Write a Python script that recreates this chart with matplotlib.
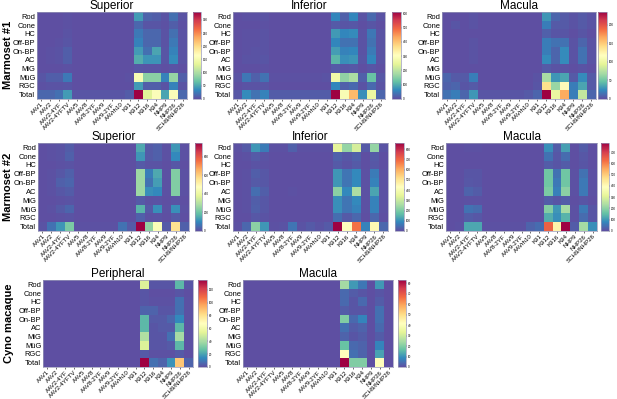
import numpy as np
import matplotlib
matplotlib.use("Agg")
import matplotlib.pyplot as plt

plt.rcParams['font.family'] = ['Liberation Sans', 'DejaVu Sans']

cell_types = ["Rod", "Cone", "HC", "Off-BP", "On-BP", "AC", "MiG", "MüG", "RGC", "Total"]
capsids = ["AAV1", "AAV2", "AAV2-4YF", "AAV2-4YFTV", "AAV5", "AAV8", "AAV8-2YF",
           "AAV9", "AAV9-2YF", "AAVrh10", "K91", "K912", "K916", "K94",
           "NHP9", "NHP26", "SCH9/NHP26"]

# values (rows = cell types, cols = capsids)
m1_superior = [
    [0, 0, 0, 2, 0, 0, 0, 0, 0, 0, 0, 45, 12, 10, 3, 20, 3],
    [0, 0, 0, 2, 0, 0, 0, 0, 0, 0, 0, 15, 5, 5, 2, 10, 2],
    [0, 0, 0, 3, 0, 0, 0, 0, 0, 0, 0, 25, 15, 15, 3, 20, 3],
    [0, 0, 2, 5, 0, 0, 0, 0, 0, 0, 0, 30, 15, 15, 3, 25, 3],
    [0, 2, 3, 10, 0, 0, 0, 0, 0, 0, 0, 45, 20, 50, 5, 30, 3],
    [0, 2, 3, 10, 0, 0, 0, 0, 0, 0, 0, 55, 40, 40, 5, 35, 3],
    [0, 0, 0, 2, 0, 0, 0, 0, 0, 0, 0, 5, 3, 3, 0, 3, 0],
    [5, 10, 10, 25, 0, 0, 0, 0, 0, 0, 2, 155, 85, 85, 30, 90, 10],
    [2, 3, 3, 5, 0, 0, 0, 0, 0, 0, 0, 45, 10, 10, 3, 30, 3],
    [15, 15, 20, 45, 5, 5, 5, 5, 5, 5, 8, 330, 130, 160, 50, 160, 15],
]
m1_inferior = [
    [0, 3, 3, 5, 0, 0, 0, 0, 0, 0, 0, 60, 20, 60, 5, 30, 5],
    [0, 2, 2, 3, 0, 0, 0, 0, 0, 0, 0, 12, 8, 10, 2, 8, 2],
    [0, 3, 3, 5, 0, 0, 0, 0, 0, 0, 0, 80, 60, 65, 5, 45, 5],
    [0, 3, 3, 5, 0, 0, 0, 0, 0, 0, 0, 60, 40, 40, 5, 40, 5],
    [0, 3, 5, 5, 0, 0, 0, 0, 0, 0, 0, 85, 55, 60, 5, 50, 5],
    [2, 5, 5, 8, 0, 0, 0, 0, 0, 0, 0, 110, 70, 75, 8, 60, 5],
    [0, 2, 2, 3, 0, 0, 0, 0, 0, 0, 0, 12, 8, 10, 2, 8, 2],
    [5, 45, 20, 40, 3, 3, 3, 3, 3, 3, 5, 270, 160, 185, 20, 125, 10],
    [2, 5, 5, 8, 0, 0, 0, 0, 0, 0, 0, 60, 20, 30, 5, 30, 5],
    [10, 65, 40, 55, 15, 15, 15, 15, 15, 15, 15, 610, 290, 410, 70, 260, 25],
]
m1_macula = [
    [0, 0, 0, 2, 0, 0, 0, 0, 0, 0, 0, 30, 10, 5, 2, 5, 2],
    [0, 3, 0, 2, 0, 0, 0, 0, 0, 0, 0, 20, 5, 5, 2, 5, 2],
    [0, 0, 0, 0, 0, 0, 0, 0, 0, 0, 0, 8, 3, 3, 0, 3, 0],
    [0, 0, 0, 2, 0, 0, 0, 0, 0, 0, 0, 20, 15, 15, 2, 10, 2],
    [0, 0, 0, 2, 0, 0, 0, 0, 0, 0, 0, 20, 10, 25, 2, 15, 2],
    [0, 0, 0, 2, 0, 0, 0, 0, 0, 0, 0, 25, 10, 25, 2, 15, 2],
    [0, 0, 0, 0, 0, 0, 0, 0, 0, 0, 0, 5, 2, 2, 0, 2, 0],
    [10, 5, 5, 20, 0, 0, 0, 0, 0, 0, 2, 70, 30, 35, 5, 25, 5],
    [8, 10, 3, 5, 0, 0, 0, 0, 0, 0, 3, 140, 65, 120, 20, 35, 5],
    [15, 20, 10, 30, 3, 3, 3, 3, 3, 5, 10, 235, 100, 165, 20, 80, 10],
]
m2_superior = [
    [0, 5, 10, 25, 0, 0, 0, 0, 0, 0, 0, 150, 20, 30, 5, 120, 5],
    [0, 5, 10, 30, 0, 0, 0, 0, 0, 0, 0, 120, 20, 30, 5, 100, 5],
    [0, 3, 5, 10, 0, 0, 0, 0, 0, 0, 0, 20, 10, 10, 3, 15, 3],
    [0, 5, 15, 30, 0, 0, 0, 0, 0, 0, 0, 270, 80, 150, 5, 230, 5],
    [0, 5, 30, 40, 0, 0, 0, 0, 0, 0, 0, 270, 60, 130, 5, 230, 5],
    [0, 5, 15, 25, 0, 0, 0, 0, 0, 0, 0, 270, 110, 100, 5, 230, 5],
    [0, 3, 5, 10, 0, 0, 0, 0, 0, 0, 0, 20, 5, 10, 3, 10, 3],
    [0, 5, 20, 40, 0, 0, 0, 0, 0, 0, 0, 170, 20, 110, 5, 110, 5],
    [0, 3, 5, 10, 0, 0, 0, 0, 0, 0, 0, 30, 5, 10, 3, 20, 3],
    [10, 60, 120, 220, 5, 5, 5, 5, 5, 60, 20, 950, 250, 460, 20, 560, 30],
]
m2_inferior = [
    [5, 20, 110, 70, 5, 5, 30, 5, 5, 5, 5, 350, 230, 320, 20, 230, 10],
    [0, 5, 20, 10, 0, 0, 3, 0, 0, 0, 0, 30, 15, 30, 3, 20, 3],
    [0, 3, 10, 5, 0, 0, 0, 0, 0, 0, 0, 20, 10, 20, 3, 15, 3],
    [0, 5, 25, 15, 0, 0, 3, 0, 0, 0, 0, 110, 60, 90, 5, 70, 5],
    [0, 5, 20, 15, 0, 0, 3, 0, 0, 0, 0, 110, 60, 90, 5, 80, 5],
    [0, 5, 50, 25, 0, 0, 5, 0, 0, 0, 0, 220, 90, 260, 5, 130, 5],
    [0, 5, 25, 15, 0, 0, 3, 0, 0, 0, 0, 100, 60, 90, 5, 80, 5],
    [0, 5, 30, 15, 0, 0, 3, 0, 0, 0, 0, 100, 60, 80, 5, 80, 5],
    [0, 3, 15, 10, 0, 0, 0, 0, 0, 0, 0, 50, 20, 40, 3, 40, 3],
    [5, 40, 220, 110, 5, 10, 60, 10, 20, 10, 20, 860, 430, 680, 80, 450, 40],
]
m2_macula = [
    [0, 0, 5, 5, 0, 0, 0, 0, 0, 0, 0, 90, 20, 110, 3, 20, 3],
    [0, 0, 3, 3, 0, 0, 0, 0, 0, 0, 0, 50, 15, 40, 3, 15, 3],
    [0, 0, 3, 3, 0, 0, 0, 0, 0, 0, 0, 20, 10, 20, 3, 10, 3],
    [0, 0, 10, 10, 0, 0, 0, 0, 0, 0, 0, 170, 50, 170, 5, 50, 5],
    [0, 0, 15, 10, 0, 0, 0, 0, 0, 0, 0, 170, 60, 170, 5, 60, 5],
    [0, 0, 30, 20, 0, 0, 0, 0, 0, 0, 0, 180, 70, 200, 5, 60, 5],
    [0, 0, 5, 5, 0, 0, 0, 0, 0, 0, 0, 20, 10, 20, 3, 10, 3],
    [0, 0, 50, 40, 0, 0, 0, 0, 0, 0, 0, 190, 100, 230, 5, 60, 10],
    [0, 0, 20, 15, 0, 0, 0, 0, 0, 0, 0, 130, 90, 140, 5, 40, 10],
    [0, 5, 120, 120, 5, 5, 5, 5, 5, 30, 40, 640, 420, 780, 20, 230, 90],
]
cyno_peripheral = [
    [0, 0, 0, 0, 0, 0, 0, 0, 0, 0, 0, 52, 2, 2, 2, 25, 2],
    [0, 0, 0, 0, 0, 0, 0, 0, 0, 0, 0, 2, 0, 0, 0, 2, 0],
    [0, 0, 0, 0, 0, 0, 0, 0, 0, 0, 0, 2, 1, 1, 1, 8, 1],
    [0, 0, 0, 0, 0, 0, 0, 0, 0, 0, 0, 5, 5, 2, 2, 8, 1],
    [0, 0, 0, 0, 0, 0, 0, 0, 0, 0, 0, 25, 3, 3, 6, 14, 1],
    [0, 0, 0, 0, 0, 0, 0, 0, 0, 0, 0, 25, 2, 3, 3, 25, 1],
    [0, 0, 0, 0, 0, 0, 0, 0, 0, 0, 0, 42, 2, 2, 8, 40, 1],
    [0, 0, 0, 0, 0, 0, 0, 0, 0, 0, 0, 52, 2, 2, 3, 25, 1],
    [0, 0, 0, 0, 0, 0, 0, 0, 0, 0, 0, 3, 1, 1, 1, 3, 0],
    [0, 0, 0, 0, 0, 0, 0, 0, 0, 0, 0, 135, 8, 5, 16, 88, 5],
]
cyno_macula = [
    [0, 0, 0, 0, 0, 0, 0, 0, 0, 0, 0, 24, 11, 6, 0, 11, 0],
    [0, 0, 0, 0, 0, 0, 0, 0, 0, 0, 0, 4, 2, 1, 0, 1, 0],
    [0, 0, 0, 0, 0, 0, 0, 0, 0, 0, 0, 4, 1, 4, 0, 2, 0],
    [0, 0, 0, 0, 0, 0, 0, 0, 0, 0, 0, 2, 1, 1, 0, 5, 0],
    [0, 0, 0, 0, 0, 0, 0, 0, 0, 0, 0, 20, 4, 8, 0, 5, 0],
    [0, 0, 0, 0, 0, 0, 0, 0, 0, 0, 0, 5, 2, 3, 0, 4, 0],
    [0, 0, 0, 0, 0, 0, 0, 0, 0, 0, 0, 3, 1, 2, 0, 2, 0],
    [0, 0, 0, 0, 0, 0, 0, 0, 0, 0, 0, 17, 4, 3, 0, 8, 0],
    [0, 0, 0, 0, 0, 0, 0, 0, 0, 0, 0, 42, 5, 3, 0, 12, 0],
    [0, 0, 0, 0, 0, 0, 0, 0, 0, 0, 0, 83, 20, 20, 0, 42, 0],
]

W, H = 617, 399
fig = plt.figure(figsize=(W / 100, H / 100), dpi=100)

# (data, title, tick step, heatmap x0, x1, y0, y1, colorbar x0, x1) in pixels
panels = [
    (m1_superior, "Superior", 50, 37, 187, 12, 99, 193, 201),
    (m1_inferior, "Inferior", 100, 233, 385, 12, 99, 392, 401),
    (m1_macula, "Macula", 50, 442, 596, 12, 99, 598, 607),
    (m2_superior, "Superior", 200, 38, 189, 143, 231, 195, 202),
    (m2_inferior, "Inferior", 100, 233, 388, 143, 231, 395, 404),
    (m2_macula, "Macula", 100, 446, 597, 143, 231, 601, 609),
    (cyno_peripheral, "Peripheral", 20, 43, 193, 280, 367, 198, 207),
    (cyno_macula, "Macula", 10, 243, 393, 280, 367, 398, 406),
]

def px(x0, x1, y0, y1):
    return [x0 / W, 1 - y1 / H, (x1 - x0) / W, (y1 - y0) / H]

edge = "#9a9ab8"
for data, title, step, x0, x1, y0, y1, cx0, cx1 in panels:
    arr = np.array(data, dtype=float)
    ax = fig.add_axes(px(x0, x1, y0, y1))
    im = ax.imshow(arr, cmap="Spectral_r", vmin=0, vmax=arr.max(), aspect="auto",
                   interpolation="nearest")
    ax.set_yticks(range(len(cell_types)))
    ax.set_yticklabels(cell_types, fontsize=5.4)
    ax.set_xticks(range(len(capsids)))
    ax.set_xticklabels(capsids, fontsize=4.4, rotation=45, ha="right",
                       rotation_mode="anchor")
    ax.tick_params(axis="y", length=0, pad=1.2)
    ax.tick_params(axis="x", length=1.2, width=0.4, pad=0.8)
    ax.set_title(title, fontsize=8.5, pad=2)
    for s in ax.spines.values():
        s.set_color(edge)
        s.set_linewidth(0.5)

    cax = fig.add_axes(px(cx0, cx1, y0, y1))
    cb = fig.colorbar(im, cax=cax, ticks=np.arange(0, arr.max() + 1, step))
    cb.ax.tick_params(labelsize=2.2, length=0.8, width=0.3, pad=0.5)
    cb.outline.set_edgecolor(edge)
    cb.outline.set_linewidth(0.5)

# row labels
fig.text(8 / W, 1 - 55 / H, "Marmoset #1", rotation=90, fontsize=8,
         fontweight="bold", ha="center", va="center")
fig.text(8 / W, 1 - 187 / H, "Marmoset #2", rotation=90, fontsize=8,
         fontweight="bold", ha="center", va="center")
fig.text(9 / W, 1 - 323 / H, "Cyno macaque", rotation=90, fontsize=8,
         fontweight="bold", ha="center", va="center")

fig.savefig("out.png", dpi=100)
